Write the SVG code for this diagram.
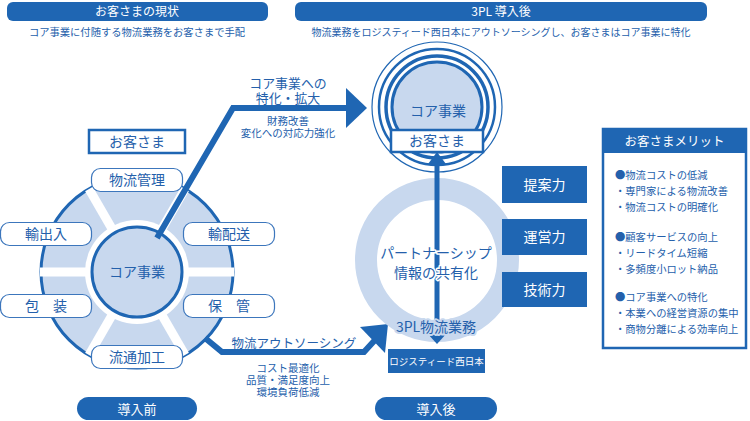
<svg xmlns="http://www.w3.org/2000/svg" width="750" height="421" viewBox="0 0 750 421">
<style>
text{font-family:"Noto Sans CJK JP","Noto Sans",sans-serif;}
.tight{font-family:"Liberation Sans","Noto Sans CJK JP",sans-serif;}
.bar{fill:#1f66b3;}
.wt{fill:#ffffff;text-anchor:middle;}
.bt{fill:#2460ab;text-anchor:middle;}
.lb{fill:#ffffff;stroke:#3c76bc;stroke-width:1.2;}
.lt{fill:#2460ab;text-anchor:middle;font-size:14px;}
.li{fill:#2460ab;font-size:10.3px;}
.halo{paint-order:stroke;stroke:#ffffff;stroke-width:3px;stroke-linejoin:round;}
.halo2{paint-order:stroke;stroke:#c8d8ee;stroke-width:4px;stroke-linejoin:round;}
.conn{fill:none;stroke:#1f66b3;stroke-width:6;stroke-linejoin:miter;}
</style>
<rect width="750" height="421" fill="#ffffff"/>

<g id="header-left">
<rect class="bar" x="7" y="2" width="261" height="19" rx="6"/>
<text class="wt" x="137" y="16" font-size="12">お客さまの現状</text>
<text class="bt" x="137" y="36" font-size="10.3">コア事業に付随する物流業務をお客さまで手配</text>
</g>
<g id="header-right">
<rect class="bar" x="295" y="2" width="412" height="19" rx="6"/>
<text class="wt" x="501" y="16" font-size="12">3PL 導入後</text>
<text class="bt" x="501" y="36" font-size="10">物流業務をロジスティード西日本にアウトソーシングし、お客さまはコア事業に特化</text>
</g>

<g id="wheel">
<circle cx="137" cy="272" r="96" fill="#c8d8ee" stroke="#1f66b3" stroke-width="3"/>
<g stroke="#ffffff" stroke-width="9">
<line x1="137" y1="272" x2="234" y2="272"/>
<line x1="137" y1="272" x2="40" y2="272"/>
<line x1="137" y1="272" x2="185" y2="355"/>
<line x1="137" y1="272" x2="89" y2="355"/>
<line x1="137" y1="272" x2="89" y2="189"/>
<line x1="137" y1="272" x2="185" y2="189"/>
</g>
<circle cx="137" cy="272" r="52" fill="#ffffff"/>
<circle cx="137" cy="272" r="45" fill="#c8d8ee" stroke="#1f66b3" stroke-width="3"/>
</g>

<g id="connectors">
<polyline class="conn" points="157,238 233,108 350,108"/>
<polygon points="346,88 367,108 346,128" fill="#1f66b3"/>
<polyline class="conn" points="205,338 222,352 364,352 375,340"/>
<polygon points="360,327 388,324 385,353" fill="#1f66b3"/>
</g>

<g id="core-left">
<text class="lt" x="137" y="277" font-size="13">コア事業</text>
</g>
<g id="customer-left">
<rect x="89" y="130" width="96" height="23" fill="#ffffff" stroke="#1f66b3" stroke-width="2.5"/>
<text class="lt" x="137" y="147">お客さま</text>
</g>
<g id="n-kanri"><rect class="lb" x="91.5" y="168.5" width="91" height="23" rx="9"/><text class="lt" x="137" y="185">物流管理</text></g>
<g id="n-yushutsu"><rect class="lb" x="0.5" y="222.5" width="91" height="23" rx="9"/><text class="lt" x="46" y="239">輸出入</text></g>
<g id="n-haiso"><rect class="lb" x="183.5" y="222.5" width="91" height="23" rx="9"/><text class="lt" x="229" y="239">輸配送</text></g>
<g id="n-hoso"><rect class="lb" x="0.5" y="294.5" width="91" height="23" rx="9"/><text class="lt" x="46" y="311">包　装</text></g>
<g id="n-hokan"><rect class="lb" x="183.5" y="294.5" width="91" height="23" rx="9"/><text class="lt" x="229" y="311">保　管</text></g>
<g id="n-kako"><rect class="lb" x="91.5" y="345.5" width="91" height="23" rx="9"/><text class="lt" x="137" y="362">流通加工</text></g>

<g id="label-core">
<text class="bt tight" x="288" y="88" font-size="12.9">コア事業への</text>
<text class="bt tight" x="288" y="102.6" font-size="12.9">特化・拡大</text>
<text class="bt tight" x="288" y="125" font-size="10.5">財務改善</text>
<text class="bt tight" x="288" y="137" font-size="10.5">変化への対応力強化</text>
</g>
<g id="label-outsourcing">
<text class="bt" x="294" y="348" font-size="12.5">物流アウトソーシング</text>
<text class="bt tight" x="288" y="372" font-size="10.5">コスト最適化</text>
<text class="bt tight" x="288" y="384" font-size="10.5">品質・満足度向上</text>
<text class="bt tight" x="288" y="396" font-size="10.5">環境負荷低減</text>
</g>

<g id="partnership">
<circle cx="437" cy="260" r="71" fill="none" stroke="#c8d8ee" stroke-width="22"/>
</g>

<g id="core-right">
<circle cx="437" cy="107" r="65" fill="none" stroke="#1f66b3" stroke-width="1.2"/>
<circle cx="437" cy="107" r="58" fill="none" stroke="#1f66b3" stroke-width="2.5"/>
<circle cx="437" cy="107" r="51" fill="none" stroke="#1f66b3" stroke-width="3.5"/>
<circle cx="437" cy="107" r="45" fill="#c8d8ee" stroke="#1f66b3" stroke-width="3"/>
<text class="lt" x="438" y="116" font-size="13">コア事業</text>
</g>

<g id="arrow-vertical">
<line x1="437" y1="160" x2="437" y2="335" stroke="#1f66b3" stroke-width="5"/>
<polygon points="428,164 437,152 446,164" fill="#1f66b3"/>
<polygon points="427,333 447,333 437,344" fill="#1f66b3"/>
</g>

<g id="customer-right">
<rect x="391" y="130" width="92" height="22" fill="#ffffff" stroke="#1f66b3" stroke-width="2.5"/>
<text class="lt" x="437" y="146" font-size="13.5">お客さま</text>
</g>

<g id="partnership-text">
<text class="lt halo" x="436" y="258" font-size="13">パートナーシップ</text>
<text class="lt halo" x="436" y="278" font-size="13">情報の共有化</text>
<text class="lt halo2" x="436" y="332" font-size="13">3PL物流業務</text>
</g>

<g id="logisteed">
<rect x="388" y="349" width="97" height="24" fill="#1f66b3"/>
<text class="wt" x="436.5" y="365" font-size="9.5">ロジスティード西日本</text>
</g>

<g id="teian"><rect x="502" y="166" width="85" height="37" fill="#1f66b3"/><text class="wt" x="544.5" y="190" font-size="14">提案力</text></g>
<g id="unei"><rect x="502" y="219" width="85" height="36" fill="#1f66b3"/><text class="wt" x="544.5" y="242" font-size="14">運営力</text></g>
<g id="gijutsu"><rect x="502" y="272" width="85" height="35" fill="#1f66b3"/><text class="wt" x="544.5" y="295" font-size="14">技術力</text></g>

<g id="merit">
<rect x="603" y="129" width="143" height="219" fill="#ffffff" stroke="#1f66b3" stroke-width="2.5"/>
<rect x="603" y="129" width="143" height="24" fill="#1f66b3"/>
<text class="wt" x="674.5" y="146" font-size="12.5">お客さまメリット</text>
<text class="li" x="615" y="179">●物流コストの低減</text>
<text class="li" x="615" y="195">・専門家による物流改善</text>
<text class="li" x="615" y="211">・物流コストの明確化</text>
<text class="li" x="615" y="241">●顧客サービスの向上</text>
<text class="li" x="615" y="257">・リードタイム短縮</text>
<text class="li" x="615" y="272.5">・多頻度小ロット納品</text>
<text class="li" x="615" y="301">●コア事業への特化</text>
<text class="li" x="615" y="317">・本業への経営資源の集中</text>
<text class="li" x="615" y="332.5">・商物分離による効率向上</text>
</g>

<g id="before"><rect class="bar" x="77" y="397" width="120" height="23" rx="11.5"/><text class="wt" x="137" y="414" font-size="13">導入前</text></g>
<g id="after"><rect class="bar" x="375" y="397" width="122" height="23" rx="11.5"/><text class="wt" x="436" y="414" font-size="13">導入後</text></g>
</svg>
